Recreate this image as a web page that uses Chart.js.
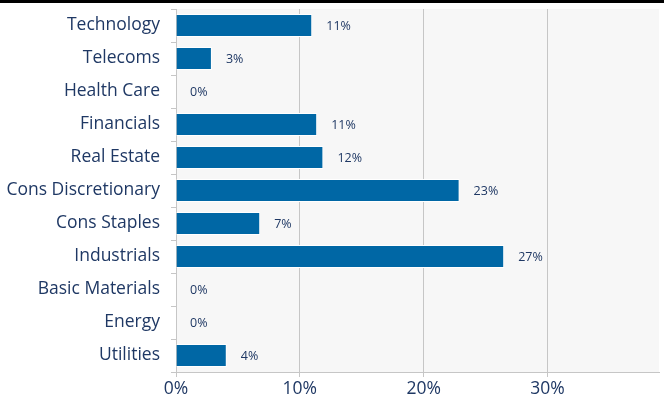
<!DOCTYPE html>
<html>
<head>
<meta charset="utf-8">
<script src="https://cdn.jsdelivr.net/npm/chart.js@4"></script>
<style>
    html, body { margin: 0; padding: 0; background: #fff; }
    #wrap { width: 664px; height: 407px; position: relative; box-sizing: border-box; border-top: 3px solid #000; }
    #sectors { display: block; }
</style>
</head>
<body>
<div id="wrap"><canvas id="sectors" width="664" height="404"></canvas></div>
<script>
const sectors = ['Technology', 'Telecoms', 'Health Care', 'Financials', 'Real Estate',
    'Cons Discretionary', 'Cons Staples', 'Industrials', 'Basic Materials', 'Energy', 'Utilities'];
const weights = [11.0, 2.9, 0, 11.4, 11.9, 22.9, 6.8, 26.5, 0, 0, 4.1];
const weight_labels = ['11%', '3%', '0%', '11%', '12%', '23%', '7%', '27%', '0%', '0%', '4%'];
const x_ticks = [0, 10, 20, 30];

const navy = '#1f3864';
const font_family = '"Open Sans", Lato, sans-serif';

window.addEventListener('load', () => {
    const plot_bg = {
        id: 'plot_bg',
        beforeDraw: (chart) => {
            const {ctx, chartArea: a} = chart;
            ctx.save();
            ctx.fillStyle = '#f7f7f7';
            ctx.fillRect(a.left, a.top, a.right - a.left, a.bottom - a.top);
            ctx.restore();
        }
    };
    const bar_labels = {
        id: 'bar_labels',
        afterDatasetsDraw: (chart) => {
            const ctx = chart.ctx;
            const meta = chart.getDatasetMeta(0);
            ctx.save();
            ctx.fillStyle = navy;
            ctx.font = '12.5px ' + font_family;
            ctx.textBaseline = 'middle';
            meta.data.forEach((bar, i) => {
                ctx.fillText(weight_labels[i], bar.x + 14, bar.y + 1);
            });
            ctx.restore();
        }
    };

    new Chart(document.getElementById('sectors'), {
        type: 'bar',
        data: {
            labels: sectors,
            datasets: [{
                data: weights,
                backgroundColor: '#0067a5',
                borderColor: '#ffffff',
                borderWidth: 1,
                categoryPercentage: 1,
                barPercentage: 0.7
            }]
        },
        options: {
            indexAxis: 'y',
            responsive: false,
            animation: false,
            layout: { padding: { top: 6, right: 5, bottom: 0, left: 0 } },
            plugins: { legend: { display: false }, tooltip: { enabled: false } },
            scales: {
                x: {
                    min: 0,
                    max: 39,
                    afterBuildTicks: (scale) => {
                        scale.ticks = x_ticks.map(v => ({value: v}));
                    },
                    afterFit: (scale) => { scale.height = 35; },
                    grid: { color: '#c6c6c6', tickLength: 5, lineWidth: 1 },
                    border: { color: '#c6c6c6' },
                    ticks: {
                        color: navy,
                        font: { family: font_family, size: 17.5 },
                        padding: 2,
                        callback: (v) => v + '%'
                    }
                },
                y: {
                    afterFit: (scale) => {
                        scale.width = 176;
                        scale.paddingTop = 0;
                        scale.paddingBottom = 0;
                    },
                    grid: { drawOnChartArea: false, color: '#c6c6c6', tickLength: 5 },
                    border: { color: '#c6c6c6' },
                    ticks: {
                        color: navy,
                        font: { family: font_family, size: 17.5 },
                        padding: 11
                    }
                }
            }
        },
        plugins: [plot_bg, bar_labels]
    });
});
</script>
</body>
</html>
